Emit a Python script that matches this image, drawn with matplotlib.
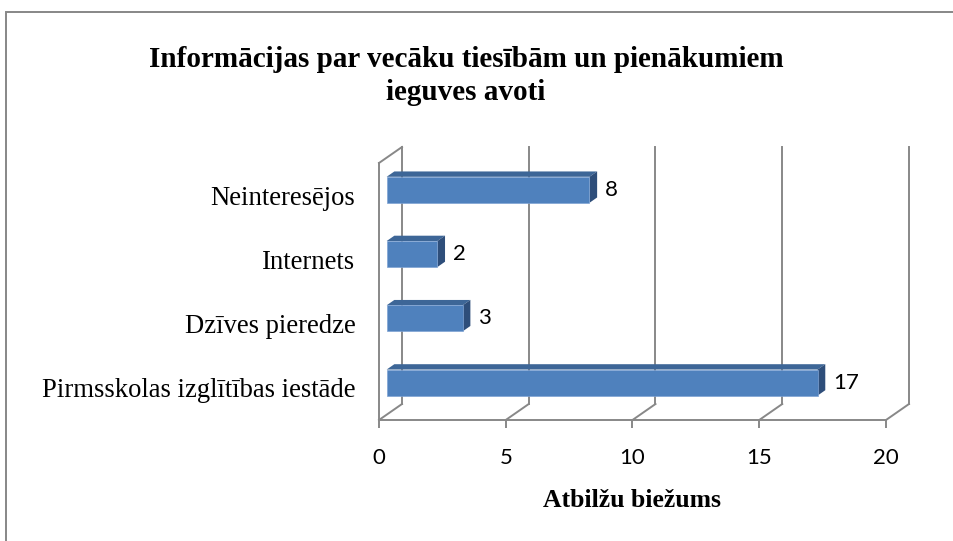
import matplotlib
matplotlib.use("Agg")
import matplotlib.pyplot as plt
from matplotlib.patches import Polygon, Rectangle

# data
categories = ["Pirmsskolas izglītības iestāde", "Dzīves pieredze", "Internets", "Neinteresējos"]
values = [17, 3, 2, 8]
x_ticks = [0, 5, 10, 15, 20]
title = "Informācijas par vecāku tiesībām un pienākumiem\nieguves avoti"
x_label = "Atbilžu biežums"

# look
front_col = "#4F81BD"
top_col = "#3D6697"
side_col = "#2E4E7A"
grid_col = "#888888"
DX, DY = 0.907, 0.249      # depth of the 3d box in data units
d0, d1 = 1 / 3, 2 / 3      # bars sit in the middle third of the depth
bar_h = 0.405

fig = plt.figure(figsize=(9.54, 5.41), dpi=100)
ax = fig.add_axes([379 / 954, 121 / 541, 507 / 954, 257 / 541])
ax.set_xlim(0, 20)
ax.set_ylim(-0.5, 3.5)

# walls and floor
for t in x_ticks:
    ax.plot([t + DX, t + DX], [-0.5 + DY, 3.5 + DY], color=grid_col, lw=1.4, clip_on=False, zorder=1)
    ax.plot([t, t + DX], [-0.5, -0.5 + DY], color=grid_col, lw=1.4, clip_on=False, zorder=1)
ax.plot([0, DX], [3.5, 3.5 + DY], color=grid_col, lw=1.4, clip_on=False, zorder=1)

# bars
ypos = list(range(len(categories)))
ax.barh([y + d0 * DY for y in ypos], values, left=d0 * DX, height=bar_h,
        color=front_col, edgecolor="#7FA3D3", linewidth=0.5, zorder=3)
for y, v in zip(ypos, values):
    yb = y + d0 * DY - bar_h / 2
    yt = y + d0 * DY + bar_h / 2
    x0 = d0 * DX
    ddx = (d1 - d0) * DX
    ddy = (d1 - d0) * DY
    ax.add_patch(Polygon([(x0, yt), (x0 + v, yt), (x0 + v + ddx, yt + ddy), (x0 + ddx, yt + ddy)],
                         closed=True, facecolor=top_col, edgecolor="none", zorder=2, clip_on=False))
    ax.add_patch(Polygon([(x0 + v, yb), (x0 + v, yt), (x0 + v + ddx, yt + ddy), (x0 + v + ddx, yb + ddy)],
                         closed=True, facecolor=side_col, edgecolor="none", zorder=2, clip_on=False))
    ax.text(v + d1 * DX + 0.3, y + d0 * DY, str(v), va="center", ha="left",
            fontsize=16, family="Lato", color="black")

# axes styling
for s in ["top", "right"]:
    ax.spines[s].set_visible(False)
ax.spines["bottom"].set_color(grid_col)
ax.spines["left"].set_color(grid_col)
ax.spines["bottom"].set_linewidth(1.4)
ax.spines["left"].set_linewidth(1.4)
ax.set_xticks(x_ticks)
ax.set_xticklabels([str(t) for t in x_ticks], family="Lato", fontsize=16)
ax.tick_params(axis="x", direction="out", length=6, width=1.4, color=grid_col, pad=14)
ax.set_yticks(ypos)
ax.set_yticklabels(categories, family="Liberation Serif", fontsize=19.2)
ax.tick_params(axis="y", length=0, pad=17)
ax.set_xlabel(x_label, family="Liberation Serif", fontweight="bold", fontsize=18.5, labelpad=15)
ax.patch.set_visible(False)

fig.text(466 / 954, 1 - 76 / 541, title, ha="center", va="center", family="Liberation Serif",
         fontweight="bold", fontsize=21, linespacing=1.3)

# chart frame
fig.patches.append(Rectangle((6 / 954, -0.01), 1.0, 1 - 12 / 541 + 0.01, transform=fig.transFigure,
                             fill=False, edgecolor="#878787", linewidth=1.4))

fig.savefig("out.png", dpi=100)
